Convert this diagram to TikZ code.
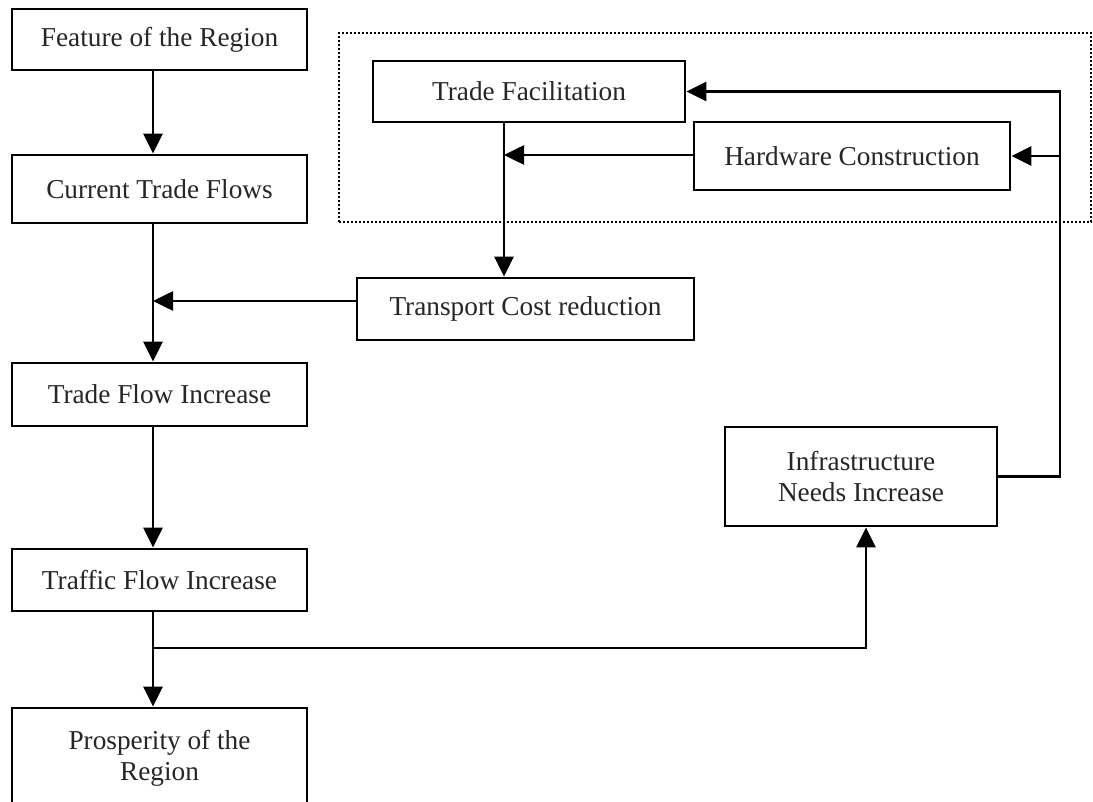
\documentclass[tikz,border=0pt]{standalone}
\usepackage{fontspec}
\setmainfont{Liberation Serif}
\usetikzlibrary{arrows.meta,calc}
\begin{document}
\begin{tikzpicture}[x=1pt,y=-1pt,
  box/.style={draw=black, line width=2.8pt, inner sep=0pt, align=center,
    font=\fontsize{27.3}{31}\selectfont, text=black!85},
  conn/.style={draw=black, line width=2.6pt, -{Triangle[length=20pt,width=19pt]}},
  dotbox/.style={draw=black, line width=2.2pt, dash pattern=on 2pt off 2pt, inner sep=0pt}]
\useasboundingbox (0,0) rectangle (1093,802);
\fill[white] (0,0) rectangle (1093,802);

% group frame
\node[dotbox, minimum width=752pt, minimum height=189pt] (grp) at (715,127.5) {};

% left column
\node[box, minimum width=295pt, minimum height=61pt] (feat) at (159.5,39.5) {Feature of the Region};
\node[box, minimum width=295pt, minimum height=68pt] (cur) at (159.5,189) {Current Trade Flows};
\node[box, minimum width=295pt, minimum height=63pt] (tfi) at (159.5,394.5) {Trade Flow Increase};
\node[box, minimum width=295pt, minimum height=62pt] (traf) at (159.5,580) {Traffic Flow Increase};
\node[box, minimum width=295pt, minimum height=100pt] (pros) at (159.5,758) {Prosperity of the\\Region};

% right part
\node[box, minimum width=312pt, minimum height=61pt] (tf) at (529,91.5) {Trade Facilitation};
\node[box, minimum width=316pt, minimum height=68pt] (hc) at (852,156) {Hardware Construction};
\node[box, minimum width=337pt, minimum height=62pt] (tcr) at (525.5,309) {Transport Cost reduction};
\node[box, minimum width=272pt, minimum height=99pt] (inf) at (861,476.5) {Infrastructure\\Needs Increase};

% helper coordinates
\coordinate (cx) at (153,0);
\coordinate (jA) at (153,301);
\coordinate (vx) at (504,0);
\coordinate (jB) at (504,155);
\coordinate (rx) at (1060,0);
\coordinate (jC) at (153,648);
\coordinate (ix) at (866,0);

% connectors
\draw[conn] (feat.south -| cx) -- (cur.north -| cx);
\draw[conn] (cur.south -| cx) -- (tfi.north -| cx);
\draw[conn] (tcr.west |- jA) -- (jA);
\draw[conn] (tf.south -| vx) -- (tcr.north -| vx);
\draw[conn] (hc.west |- jB) -- (jB);
\draw[conn] (inf.east) -- (inf.east -| rx) -- (tf.east -| rx) -- (tf.east);
\draw[conn] (hc.east -| rx) -- (hc.east);
\draw[conn] (tfi.south -| cx) -- (traf.north -| cx);
\draw[conn] (traf.south -| cx) -- (pros.north -| cx);
\draw[conn] (jC) -- (jC -| ix) -- (inf.south -| ix);
\end{tikzpicture}
\end{document}
